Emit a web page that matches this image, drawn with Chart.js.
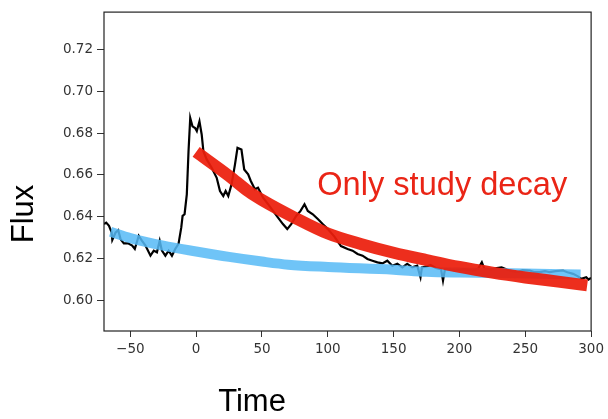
<!DOCTYPE html>
<html>
<head>
<meta charset="utf-8">
<script src="https://cdn.jsdelivr.net/npm/chart.js@4"></script>
<style>
  html, body { margin: 0; padding: 0; background: #fff; }
  canvas { display: block; }
</style>
</head>
<body>
<canvas id="flux-chart" width="608" height="419"></canvas>
<script>
// observed light curve (black)
const curveTime = [-70, -68.3, -66.2, -64.2, -63.7, -61.2, -59.2, -57.4, -54.9, -51.7, -48.6, -46.6, -43.6, -41.1, -38.5,
    -34.7, -32.2, -29.8, -27.7, -26, -23.4, -20.9, -18.4, -15.9, -13.4, -11.3, -10.3, -8.8, -7.1, -5.8, -4.5, -2.8, -0.8,
    0.5, 2.5, 4.2, 5.5, 8, 11.8, 15.6, 18.1, 20.6, 22.4, 24.4, 26.9, 29.5, 31.4, 34.4, 36.5, 39.5, 41.5, 44.6, 47, 50.8,
    54.6, 58.4, 62.2, 65.9, 69.2, 72.2, 76, 79.3, 82.3, 84.8, 88.6, 92.4, 96.1, 100, 105, 110, 115, 118.8, 122.6, 126.4,
    130.1, 133.9, 137.7, 141.5, 145.2, 149, 152.8, 156.6, 160.3, 164.1, 167.9, 170.4, 171.5, 175, 178, 182, 186, 187.5,
    189, 193, 197, 203, 210, 214, 217, 219, 224, 228.3, 232, 236, 240, 243.5, 248, 253.5, 257, 261, 265, 268.6, 273,
    278.7, 282, 286.3, 290, 292.5, 296.3, 298, 300];
const curveFlux = [0.6365, 0.6372, 0.6357, 0.6325, 0.6289, 0.6325, 0.6336, 0.6293, 0.6273, 0.6273, 0.6262, 0.6246, 0.6309,
    0.6285, 0.6262, 0.6214, 0.6238, 0.6230, 0.6285, 0.6238, 0.6214, 0.6238, 0.6214, 0.6246, 0.6270, 0.6349, 0.6404,
    0.6412, 0.6507, 0.6713, 0.6872, 0.6832, 0.6824, 0.6809, 0.6856, 0.6793, 0.6713, 0.6674, 0.6634, 0.6586, 0.6523,
    0.6499, 0.6523, 0.6499, 0.6555, 0.6650, 0.6729, 0.6721, 0.6626, 0.6603, 0.6571, 0.6531, 0.6539, 0.6491, 0.6460,
    0.6428, 0.6396, 0.6365, 0.6341, 0.6365, 0.6404, 0.6428, 0.6460, 0.6428, 0.6412, 0.6389, 0.6365, 0.6341, 0.6305,
    0.6260, 0.6246, 0.6238, 0.6222, 0.6214, 0.6198, 0.6190, 0.6182, 0.6177, 0.6190, 0.6166, 0.6175, 0.6158, 0.6175,
    0.6158, 0.6166, 0.6111, 0.6158, 0.6162, 0.6170, 0.6155, 0.6150, 0.6095, 0.6150, 0.6148, 0.6143, 0.6150, 0.6143,
    0.6150, 0.6182, 0.6150, 0.6148, 0.6155, 0.6158, 0.6148, 0.6140, 0.6135, 0.6145, 0.6143, 0.6135, 0.6135, 0.6140,
    0.6135, 0.6140, 0.6143, 0.6135, 0.6127, 0.6115, 0.6103, 0.6111, 0.6100, 0.6108];

// baseline model (blue)
const baseTime = [-65, -50, -25, 0, 25, 50, 70, 100, 150, 175, 200, 250, 292];
const baseFlux = [0.6328, 0.6298, 0.6262, 0.6234, 0.6208, 0.6186, 0.6171, 0.6160, 0.6147, 0.6137, 0.6133, 0.6129, 0.6124];

// decay model (red)
const decayTime = [0, 25, 40, 50, 75, 100, 125, 150, 175, 200, 225, 250, 275, 297];
const decayFlux = [0.6710, 0.6595, 0.6520, 0.6480, 0.6395, 0.6320, 0.6270, 0.6228, 0.6193, 0.6160, 0.6133, 0.6110, 0.6090, 0.6072];

const xTicks = [-50, 0, 50, 100, 150, 200, 250, 300];
const yTicks = [0.60, 0.62, 0.64, 0.66, 0.68, 0.70, 0.72];

const tickFont = { family: 'DejaVu Sans', size: 13.5 };
const ink = '#333';

function points(xs, ys) {
    return xs.map((x, i) => ({ x: x, y: ys[i] }));
}

const frameAndLabels = {
    id: 'frameAndLabels',
    afterDraw(chart) {
        const { ctx, chartArea: area, scales } = chart;
        ctx.save();
        ctx.strokeStyle = '#222';
        ctx.lineWidth = 1.2;
        ctx.strokeRect(area.left, area.top, area.right - area.left, area.bottom - area.top);

        ctx.fillStyle = '#000';
        ctx.font = '31px "Liberation Sans", Arial, sans-serif';
        ctx.textAlign = 'center';
        ctx.textBaseline = 'alphabetic';
        ctx.fillText('Time', 252, 411);

        ctx.translate(33, 214);
        ctx.rotate(-Math.PI / 2);
        ctx.fillText('Flux', 0, 0);
        ctx.restore();

        ctx.save();
        ctx.fillStyle = '#ea2516';
        ctx.font = '32.6px "Liberation Sans", Arial, sans-serif';
        ctx.textAlign = 'left';
        ctx.textBaseline = 'alphabetic';
        ctx.fillText('Only study decay', scales.x.getPixelForValue(92), scales.y.getPixelForValue(0.6503));
        ctx.restore();
    }
};

new Chart(document.getElementById('flux-chart'), {
    type: 'scatter',
    data: {
        datasets: [
            {
                label: 'decay',
                data: points(decayTime, decayFlux),
                showLine: true,
                borderColor: 'rgba(236, 30, 12, 0.93)',
                borderWidth: 12,
                pointRadius: 0,
                cubicInterpolationMode: 'monotone'
            },
            {
                label: 'baseline',
                data: points(baseTime, baseFlux),
                showLine: true,
                borderColor: 'rgba(86, 186, 246, 0.85)',
                borderWidth: 10,
                pointRadius: 0,
                cubicInterpolationMode: 'monotone'
            },
            {
                label: 'flux',
                data: points(curveTime, curveFlux),
                showLine: true,
                borderColor: '#000',
                borderWidth: 2.2,
                pointRadius: 0,
                tension: 0
            }
        ]
    },
    options: {
        responsive: false,
        animation: false,
        devicePixelRatio: 1,
        layout: { padding: { top: 10, right: 13, left: 0, bottom: 0 } },
        plugins: {
            legend: { display: false },
            tooltip: { enabled: false }
        },
        scales: {
            x: {
                type: 'linear',
                min: -70,
                max: 300,
                afterFit: scale => { scale.height = 88; },
                afterBuildTicks: scale => { scale.ticks = xTicks.map(v => ({ value: v })); },
                grid: { drawOnChartArea: false, drawTicks: true, tickLength: 6, color: ink },
                border: { display: false },
                ticks: {
                    color: ink,
                    font: tickFont,
                    padding: 4,
                    maxRotation: 0,
                    callback: v => String(v).replace('-', '\u2212')
                }
            },
            y: {
                type: 'linear',
                min: 0.5854,
                max: 0.7378,
                afterFit: scale => { scale.width = 104; },
                afterBuildTicks: scale => { scale.ticks = yTicks.map(v => ({ value: v })); },
                grid: { drawOnChartArea: false, drawTicks: true, tickLength: 7, color: ink },
                border: { display: false },
                ticks: {
                    color: ink,
                    font: tickFont,
                    padding: 4,
                    callback: v => v.toFixed(2)
                }
            }
        }
    },
    plugins: [frameAndLabels]
});
</script>
</body>
</html>
